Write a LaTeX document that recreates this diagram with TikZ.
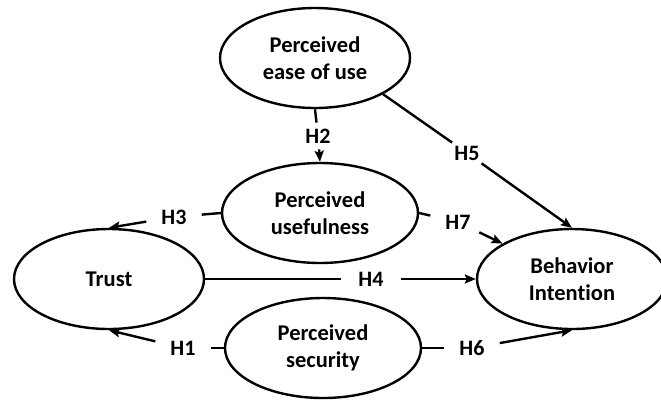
\documentclass[tikz,border=0pt]{standalone}
\usepackage{fontspec}
\setmainfont{Carlito}[Ligatures=CommonOff]
\usetikzlibrary{shapes.geometric,arrows.meta}
\begin{document}
\begin{tikzpicture}[x=1pt,y=-1pt,
  construct/.style={draw=black, line width=2.4pt, ellipse, inner sep=0pt,
    minimum width=190pt, minimum height=100pt, align=center,
    font=\fontsize{22.5}{27}\selectfont\bfseries},
  hyp/.style={inner xsep=15pt, inner ysep=3pt,
    font=\fontsize{22}{26}\selectfont\bfseries},
  link/.style={line width=2.4pt},
  arr/.style={line width=2.4pt, -{Stealth[length=11pt,width=9pt,inset=2pt]}}
]
\useasboundingbox (0,0) rectangle (661,400);
\node[construct] (peou) at (315,58) {Perceived\\ease of use};
\node[construct, minimum width=196pt] (pu) at (320,213) {Perceived\\usefulness};
\node[construct] (trust) at (109,279) {Trust};
\node[construct, minimum width=196pt] (ps) at (323,348) {Perceived\\security};
\node[construct] (bi) at (572,279) {Behavior\\Intention};

\node[hyp, inner xsep=8pt, inner ysep=6pt] (h2) at (318,136) {H2};
\node[hyp] (h3) at (174,217) {H3};
\node[hyp, inner xsep=17pt] (h4) at (371,279) {H4};
\node[hyp] (h5) at (467,153) {H5};
\node[hyp] (h7) at (458,222) {H7};
\node[hyp] (h1) at (183,348) {H1};
\node[hyp] (h6) at (472,348) {H6};

\draw[link] (peou.south) -- (h2);
\draw[arr] (h2) -- (pu.north);
\draw[link] (pu.west) -- (h3);
\draw[arr] (h3) -- (trust.north);
\draw[link] (trust.east) -- (h4);
\draw[arr] (h4) -- (bi.west);
\draw[link] (peou.-28) -- (h5);
\draw[arr] (h5) -- (bi.north);
\draw[link] (pu.east) -- (h7);
\draw[arr] (h7) -- (bi.153);
\draw[link] (ps.west) -- (h1);
\draw[arr] (h1) -- (trust.south);
\draw[link] (ps.east) -- (h6);
\draw[arr] (h6) -- (bi.south);
\end{tikzpicture}
\end{document}
